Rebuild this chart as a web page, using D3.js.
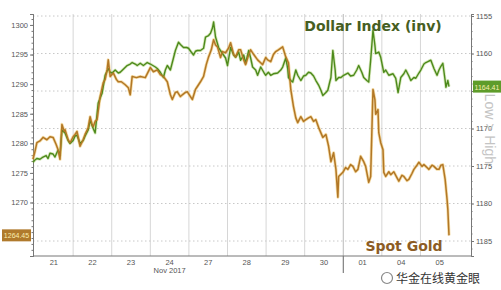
<!DOCTYPE html>
<html>
<head>
    <script src="https://d3js.org/d3.v7.min.js"></script>
    <style>
        body { margin: 0; background: #fff; font-family: 'Liberation Sans', Arial, sans-serif; }
        .tick-label { font-size: 7.5px; fill: #555; }
        .line { fill: none; stroke-linejoin: round; }
    </style>
</head>
<body>
<script>
    // day labels along the bottom (trading days, Nov 21 2017 - Dec 05)
    const dayLabels = ['21', '22', '23', '24', '27', '28', '29', '30', '01', '04', '05'];
    const goldTicks = [1270, 1275, 1280, 1285, 1290, 1295, 1300];
    const dollarTicks = [1155, 1160, 1165, 1170, 1175, 1180, 1185];

    // [day position, value]
    const gold = [
        [-0.04, 1277.3], [0.01, 1278.6], [0.06, 1280.1], [0.14, 1280.4], [0.22, 1281.0], [0.32, 1280.6],
        [0.40, 1281.1], [0.48, 1281.0], [0.56, 1279.8], [0.61, 1278.9], [0.66, 1277.3], [0.71, 1283.2],
        [0.77, 1282.0], [0.79, 1282.3], [0.87, 1280.6], [0.92, 1280.1], [1.00, 1281.1], [1.05, 1281.5],
        [1.10, 1282.0], [1.18, 1279.5], [1.26, 1280.6], [1.31, 1281.5], [1.39, 1282.6], [1.44, 1284.5],
        [1.49, 1283.2], [1.52, 1282.8], [1.57, 1283.7], [1.62, 1284.0], [1.70, 1287.9], [1.78, 1290.2],
        [1.83, 1290.8], [1.88, 1292.4], [1.91, 1294.1], [1.96, 1291.3], [2.04, 1291.9], [2.12, 1290.8],
        [2.17, 1290.4], [2.25, 1290.4], [2.35, 1289.9], [2.43, 1289.4], [2.48, 1288.2], [2.53, 1291.3],
        [2.64, 1291.1], [2.74, 1291.3], [2.87, 1291.1], [3.00, 1292.8], [3.08, 1292.1], [3.18, 1292.4],
        [3.26, 1291.6], [3.34, 1291.3], [3.44, 1290.4], [3.52, 1288.2], [3.57, 1287.4], [3.65, 1288.6],
        [3.70, 1288.7], [3.78, 1287.9], [3.83, 1288.2], [3.91, 1288.6], [3.96, 1288.7], [4.04, 1287.9],
        [4.09, 1287.4], [4.17, 1289.1], [4.22, 1289.6], [4.30, 1290.4], [4.38, 1291.3], [4.45, 1293.3],
        [4.51, 1294.6], [4.58, 1295.8], [4.64, 1297.5], [4.69, 1296.6], [4.74, 1296.3], [4.82, 1294.5],
        [4.87, 1295.5], [4.95, 1295.3], [5.03, 1296.1], [5.08, 1297.0], [5.16, 1295.0], [5.21, 1294.6],
        [5.29, 1295.8], [5.34, 1295.8], [5.42, 1294.1], [5.47, 1293.3], [5.55, 1295.0], [5.60, 1295.8],
        [5.68, 1295.0], [5.78, 1294.1], [5.86, 1293.6], [5.91, 1293.3], [5.99, 1294.5], [6.04, 1294.1],
        [6.12, 1293.8], [6.19, 1295.0], [6.25, 1295.5], [6.32, 1295.8], [6.43, 1296.3], [6.51, 1294.6],
        [6.58, 1293.6], [6.64, 1289.1], [6.71, 1286.2], [6.77, 1284.3], [6.82, 1283.5], [6.90, 1284.5],
        [6.97, 1283.7], [7.03, 1284.0], [7.10, 1284.3], [7.16, 1284.5], [7.23, 1283.7], [7.29, 1284.0],
        [7.36, 1282.7], [7.47, 1281.0], [7.55, 1281.5], [7.62, 1279.5], [7.68, 1276.9], [7.75, 1278.4],
        [7.81, 1275.6], [7.86, 1270.9], [7.88, 1274.4], [7.99, 1275.1], [8.06, 1275.9], [8.12, 1275.6],
        [8.19, 1276.4], [8.25, 1276.1], [8.32, 1275.2], [8.38, 1275.6], [8.45, 1277.8], [8.53, 1276.9],
        [8.58, 1276.1], [8.66, 1273.4], [8.71, 1274.4], [8.77, 1289.1], [8.82, 1287.4], [8.84, 1284.9],
        [8.90, 1285.7], [8.92, 1281.8], [8.97, 1280.1], [9.03, 1278.9], [9.05, 1275.1], [9.10, 1274.4],
        [9.18, 1275.2], [9.23, 1274.7], [9.31, 1275.2], [9.39, 1274.2], [9.44, 1273.6], [9.52, 1274.6],
        [9.57, 1274.4], [9.65, 1273.7], [9.70, 1273.9], [9.78, 1274.9], [9.83, 1275.6], [9.91, 1276.3],
        [9.96, 1276.8], [10.04, 1276.1], [10.09, 1276.4], [10.17, 1275.9], [10.22, 1275.6], [10.30, 1276.3],
        [10.35, 1276.1], [10.43, 1275.6], [10.48, 1275.6], [10.53, 1276.3], [10.58, 1276.4], [10.64, 1273.9],
        [10.69, 1270.5], [10.71, 1268.8], [10.74, 1264.45]
    ];

    const dollar = [
        [-0.04, 1174.5], [0.01, 1174.2], [0.06, 1174.0], [0.14, 1174.1], [0.22, 1173.8], [0.30, 1173.6],
        [0.35, 1174.0], [0.40, 1173.3], [0.48, 1173.4], [0.53, 1173.8], [0.58, 1173.2], [0.61, 1172.9],
        [0.66, 1173.6], [0.71, 1170.2], [0.79, 1170.6], [0.87, 1171.6], [0.92, 1172.0], [1.00, 1171.6],
        [1.05, 1171.0], [1.10, 1170.9], [1.18, 1172.0], [1.26, 1171.6], [1.31, 1171.0], [1.39, 1170.2],
        [1.44, 1168.9], [1.52, 1170.0], [1.57, 1170.6], [1.65, 1166.6], [1.75, 1165.3], [1.83, 1162.9],
        [1.91, 1162.0], [1.96, 1162.5], [2.01, 1162.6], [2.09, 1162.2], [2.17, 1162.6], [2.22, 1162.5],
        [2.32, 1162.0], [2.40, 1161.6], [2.48, 1161.4], [2.53, 1161.2], [2.61, 1161.4], [2.66, 1161.6],
        [2.74, 1161.3], [2.82, 1161.6], [2.92, 1161.2], [3.00, 1161.4], [3.13, 1161.8], [3.18, 1162.0],
        [3.26, 1162.5], [3.34, 1163.2], [3.39, 1162.2], [3.44, 1161.6], [3.52, 1162.2], [3.60, 1160.6],
        [3.65, 1159.6], [3.73, 1158.5], [3.78, 1158.8], [3.86, 1159.2], [3.94, 1159.2], [3.99, 1159.3],
        [4.06, 1159.8], [4.12, 1160.2], [4.17, 1159.7], [4.22, 1159.6], [4.30, 1159.6], [4.38, 1159.3],
        [4.43, 1157.8], [4.51, 1157.6], [4.56, 1157.3], [4.61, 1156.6], [4.64, 1155.8], [4.69, 1157.8],
        [4.77, 1159.2], [4.82, 1159.6], [4.87, 1160.0], [4.95, 1160.6], [5.00, 1161.6], [5.08, 1159.2],
        [5.16, 1160.2], [5.21, 1160.5], [5.29, 1159.8], [5.34, 1160.9], [5.42, 1160.2], [5.47, 1161.3],
        [5.55, 1159.6], [5.60, 1160.6], [5.65, 1161.8], [5.73, 1162.2], [5.78, 1162.9], [5.86, 1161.8],
        [5.94, 1162.5], [5.99, 1162.9], [6.06, 1162.5], [6.12, 1162.9], [6.19, 1162.7], [6.30, 1162.6],
        [6.38, 1162.2], [6.43, 1161.8], [6.51, 1160.6], [6.56, 1162.0], [6.58, 1163.2], [6.64, 1163.6],
        [6.69, 1163.8], [6.77, 1162.2], [6.82, 1162.9], [6.90, 1163.6], [6.97, 1163.0], [7.03, 1162.9],
        [7.10, 1162.5], [7.16, 1162.6], [7.23, 1163.0], [7.29, 1163.6], [7.36, 1164.2], [7.42, 1164.9],
        [7.47, 1165.6], [7.55, 1165.2], [7.60, 1164.9], [7.65, 1163.8], [7.68, 1163.2], [7.73, 1159.6],
        [7.79, 1162.2], [7.81, 1163.6], [7.88, 1163.2], [7.94, 1163.2], [8.01, 1162.9], [8.12, 1162.6],
        [8.19, 1163.0], [8.27, 1162.9], [8.35, 1162.2], [8.40, 1161.6], [8.48, 1162.5], [8.53, 1163.2],
        [8.61, 1163.6], [8.66, 1163.8], [8.71, 1160.9], [8.77, 1156.9], [8.82, 1158.9], [8.84, 1160.0],
        [8.92, 1159.8], [8.97, 1160.5], [9.05, 1162.5], [9.10, 1162.2], [9.18, 1162.9], [9.29, 1162.7],
        [9.36, 1163.3], [9.42, 1165.2], [9.49, 1163.2], [9.57, 1162.7], [9.62, 1162.2], [9.70, 1163.0],
        [9.75, 1163.6], [9.83, 1163.2], [9.88, 1163.3], [9.96, 1162.6], [10.01, 1162.2], [10.09, 1161.4],
        [10.14, 1161.2], [10.22, 1161.0], [10.27, 1160.9], [10.35, 1162.0], [10.43, 1162.9], [10.48, 1162.2],
        [10.53, 1161.7], [10.58, 1161.3], [10.64, 1163.6], [10.66, 1164.5], [10.71, 1163.6], [10.74, 1164.41]
    ];

    const width = 501, height = 290;
    const margin = {top: 14, right: 30, bottom: 34, left: 33};

    const svg = d3.select('body').append('svg')
        .attr('width', width)
        .attr('height', height);

    const x = d3.scaleLinear()
        .domain([-0.04, 11.31])
        .range([margin.left, width - margin.right]);

    const yGold = d3.scaleLinear()
        .domain([1260.96, 1301.85])
        .range([height - margin.bottom, margin.top]);

    // dollar index plotted inverted
    const yDollar = d3.scaleLinear()
        .domain([1154.73, 1187])
        .range([margin.top, height - margin.bottom]);

    const x0 = margin.left, x1 = width - margin.right;
    const yTop = margin.top, yBot = height - margin.bottom;

    // vertical day separators
    svg.append('g').selectAll('line')
        .data(d3.range(1, dayLabels.length))
        .join('line')
        .attr('x1', d => x(d)).attr('x2', d => x(d))
        .attr('y1', yTop).attr('y2', yBot)
        .attr('stroke', d => d === 8 ? '#bbb' : '#d6d6d6')
        .attr('stroke-width', 1);

    // month boundary tick below axis
    svg.append('line')
        .attr('x1', x(8)).attr('x2', x(8))
        .attr('y1', yBot).attr('y2', yBot + 17)
        .attr('stroke', '#666');

    // dotted horizontal grid from right axis
    svg.append('g').selectAll('line')
        .data(dollarTicks)
        .join('line')
        .attr('x1', x0).attr('x2', x1)
        .attr('y1', d => yDollar(d)).attr('y2', d => yDollar(d))
        .attr('stroke', '#c8c8c8')
        .attr('stroke-dasharray', '1.5,2.5');

    // axes
    const leftAxis = svg.append('g')
        .attr('transform', `translate(${x0},0)`)
        .call(d3.axisLeft(yGold).tickValues(goldTicks).tickSize(3).tickPadding(2).tickFormat(d3.format('d')));
    const leftMinor = svg.append('g')
        .attr('transform', `translate(${x0},0)`)
        .call(d3.axisLeft(yGold).tickValues(d3.range(1262, 1302, 1)).tickSize(1.5).tickFormat(''));

    const rightAxis = svg.append('g')
        .attr('transform', `translate(${x1},0)`)
        .call(d3.axisRight(yDollar).tickValues(dollarTicks).tickSize(3).tickPadding(2).tickFormat(d3.format('d')));
    const rightMinor = svg.append('g')
        .attr('transform', `translate(${x1},0)`)
        .call(d3.axisRight(yDollar).tickValues(d3.range(1155, 1187, 1)).tickSize(1.5).tickFormat(''));

    [leftAxis, leftMinor, rightAxis, rightMinor].forEach(g => {
        g.select('.domain').attr('stroke', '#777');
        g.selectAll('.tick line').attr('stroke', '#777');
        g.selectAll('text').attr('class', 'tick-label').attr('font-family', null).attr('font-size', null);
    });
    // the last-value tag covers the 1165 label
    rightAxis.selectAll('.tick').filter(d => d === 1165).select('text').remove();

    // bottom axis line
    svg.append('line')
        .attr('x1', x0).attr('x2', x1)
        .attr('y1', yBot).attr('y2', yBot)
        .attr('stroke', '#777');

    svg.append('g').selectAll('text')
        .data(dayLabels)
        .join('text')
        .attr('class', 'tick-label')
        .attr('x', (d, i) => x(i + 0.5))
        .attr('y', yBot + 9)
        .attr('text-anchor', 'middle')
        .text(d => d);

    svg.append('text')
        .attr('class', 'tick-label')
        .attr('x', x(3.5))
        .attr('y', yBot + 17)
        .attr('text-anchor', 'middle')
        .text('Nov 2017');

    // series lines
    const goldLine = d3.line().x(d => x(d[0])).y(d => yGold(d[1]));
    const dollarLine = d3.line().x(d => x(d[0])).y(d => yDollar(d[1]));

    svg.append('path').datum(dollar).attr('class', 'line')
        .attr('d', dollarLine).attr('stroke', '#a6cc6a').attr('stroke-width', 3).attr('opacity', 0.45);
    svg.append('path').datum(gold).attr('class', 'line')
        .attr('d', goldLine).attr('stroke', '#e9b84c').attr('stroke-width', 3).attr('opacity', 0.5);
    svg.append('path').datum(dollar).attr('class', 'line')
        .attr('d', dollarLine).attr('stroke', '#4d8a1c').attr('stroke-width', 1.4);
    svg.append('path').datum(gold).attr('class', 'line')
        .attr('d', goldLine).attr('stroke', '#b27726').attr('stroke-width', 1.5);

    // series titles
    svg.append('text')
        .attr('x', 373).attr('y', 31)
        .attr('text-anchor', 'middle')
        .attr('font-family', 'DejaVu Sans')
        .attr('font-weight', 'bold')
        .attr('font-size', 14)
        .attr('fill', '#465e22')
        .text('Dollar Index (inv)');

    svg.append('text')
        .attr('x', 404).attr('y', 251)
        .attr('text-anchor', 'middle')
        .attr('font-family', 'DejaVu Sans')
        .attr('font-weight', 'bold')
        .attr('font-size', 14)
        .attr('fill', '#8c5c24')
        .text('Spot Gold');

    // last value tags
    const tag = (xPos, yPos, w, fill, txt) => {
        svg.append('rect')
            .attr('x', xPos).attr('y', yPos - 6)
            .attr('width', w).attr('height', 12)
            .attr('fill', fill);
        svg.append('text')
            .attr('x', xPos + w / 2).attr('y', yPos + 3)
            .attr('text-anchor', 'middle')
            .attr('font-size', 7)
            .attr('fill', '#fbeeb0')
            .text(txt);
    };
    tag(2, yGold(1264.45), 29, '#b07a2c', '1264.45');
    tag(x1 + 2, yDollar(1164.41), 28, '#5e9c2a', '1164.41');

    svg.append('text')
        .attr('transform', `translate(${x1 + 14},${yDollar(1164.41) + 7}) rotate(90)`)
        .attr('font-size', 14)
        .attr('fill', '#c4c4c4')
        .text('Low > High');

    // watermark
    svg.append('circle')
        .attr('cx', 387).attr('cy', 278).attr('r', 5.5)
        .attr('fill', 'none').attr('stroke', '#888').attr('stroke-width', 1.2);
    svg.append('text')
        .attr('x', 396).attr('y', 283)
        .attr('font-family', 'Noto Sans CJK SC')
        .attr('font-size', 12)
        .attr('fill', '#333')
        .attr('stroke', '#fff').attr('stroke-width', 2).attr('paint-order', 'stroke')
        .text('华金在线黄金眼');
</script>
</body>
</html>
